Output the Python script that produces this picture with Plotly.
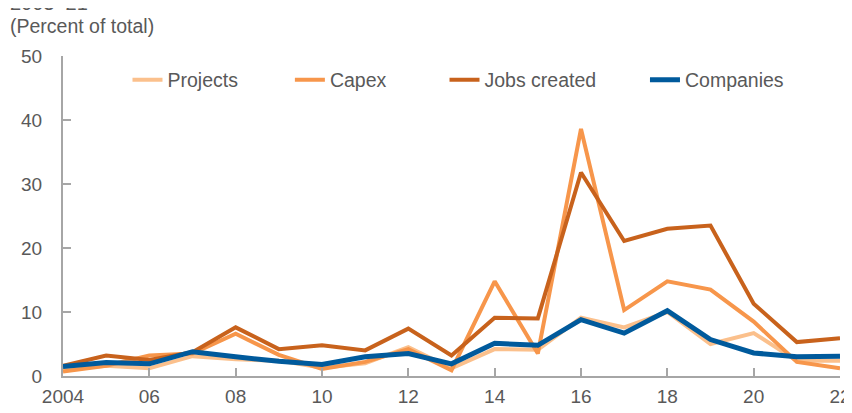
import plotly.graph_objects as go

YEARS = list(range(2004, 2023))
TICK_YEARS = list(range(2004, 2023, 2))
TICK_TEXT = ["2004", "06", "08", "10", "12", "14", "16", "18", "20", "22"]

PROJECTS = [1.0, 1.6, 1.2, 3.1, 2.6, 2.4, 1.3, 2.0, 4.5, 1.2,
            4.2, 4.1, 9.1, 7.6, 10.0, 5.0, 6.7, 2.4, 2.4]
CAPEX = [0.7, 1.6, 3.2, 3.5, 6.6, 3.3, 1.1, 2.2, 4.2, 0.9,
         14.8, 3.5, 38.6, 10.3, 14.8, 13.5, 8.5, 2.2, 1.2]
JOBS = [1.6, 3.2, 2.5, 3.7, 7.6, 4.2, 4.8, 4.0, 7.4, 3.2,
        9.1, 9.0, 31.8, 21.1, 23.0, 23.5, 11.3, 5.3, 5.9]
COMPANIES = [1.5, 2.1, 1.9, 3.8, 3.0, 2.3, 1.8, 3.0, 3.5, 1.9,
             5.1, 4.8, 8.8, 6.7, 10.2, 5.7, 3.6, 3.0, 3.1]

COLORS = {
    "projects": "rgb(251, 192, 140)",
    "capex": "rgb(247, 150, 75)",
    "jobs": "rgb(200, 98, 28)",
    "companies": "rgb(0, 90, 156)",
    "axis": "rgb(166, 166, 166)",
    "text": "rgb(89, 89, 89)",
}
FONT = "Liberation Sans, Arial, sans-serif"

# name, values, colour, line width, legend id, legend x (paper)
SERIES = [
    ("Projects", PROJECTS, COLORS["projects"], 4, "legend", 0.083),
    ("Capex", CAPEX, COLORS["capex"], 4, "legend2", 0.292),
    ("Jobs created", JOBS, COLORS["jobs"], 4, "legend3", 0.491),
    ("Companies", COMPANIES, COLORS["companies"], 5, "legend4", 0.749),
]

fig = go.Figure()
legends = {}
for name, values, color, width, legend, lx in SERIES:
    fig.add_trace(
        go.Scatter(
            x=YEARS,
            y=values,
            name=name,
            mode="lines",
            line={"color": color, "width": width},
            legend=legend,
            showlegend=True,
        )
    )
    legends[legend] = {
        "x": lx,
        "y": 0.925,
        "xanchor": "left",
        "yanchor": "middle",
        "orientation": "h",
        "bgcolor": "rgba(0,0,0,0)",
        "font": {"family": FONT, "size": 19.5, "color": COLORS["text"]},
        "itemwidth": 30,
    }

axis_common = {
    "showline": True,
    "linecolor": COLORS["axis"],
    "linewidth": 2,
    "ticks": "inside",
    "ticklen": 8,
    "tickwidth": 2,
    "tickcolor": COLORS["axis"],
    "showgrid": False,
    "zeroline": False,
    "automargin": False,
    "tickfont": {"family": FONT, "size": 19, "color": COLORS["text"]},
}

# the page body adds an 8px offset, so margins are trimmed by that much
fig.update_layout(
    width=852,
    height=413,
    showlegend=True,
    paper_bgcolor="white",
    plot_bgcolor="white",
    margin={"l": 55, "r": 20, "t": 48, "b": 45, "autoexpand": False},
    xaxis={
        **axis_common,
        "range": [2004, 2022],
        "tickvals": TICK_YEARS,
        "ticktext": TICK_TEXT,
        "ticklabelstandoff": 2,
    },
    yaxis={
        **axis_common,
        "range": [0, 50],
        "dtick": 10,
        "ticklabelstandoff": 15,
    },
    annotations=[
        {
            "text": "2003–21",
            "xref": "paper",
            "yref": "paper",
            "x": -0.071,
            "y": 1.126,
            "xanchor": "left",
            "yanchor": "bottom",
            "showarrow": False,
            "font": {"family": FONT, "size": 20, "color": COLORS["text"]},
        },
        {
            "text": "(Percent of total)",
            "xref": "paper",
            "yref": "paper",
            "x": -0.071,
            "y": 1.093,
            "xanchor": "left",
            "yanchor": "middle",
            "showarrow": False,
            "font": {"family": FONT, "size": 19.5, "color": COLORS["text"]},
        },
    ],
    **legends,
)
fig.write_html("out.html")
